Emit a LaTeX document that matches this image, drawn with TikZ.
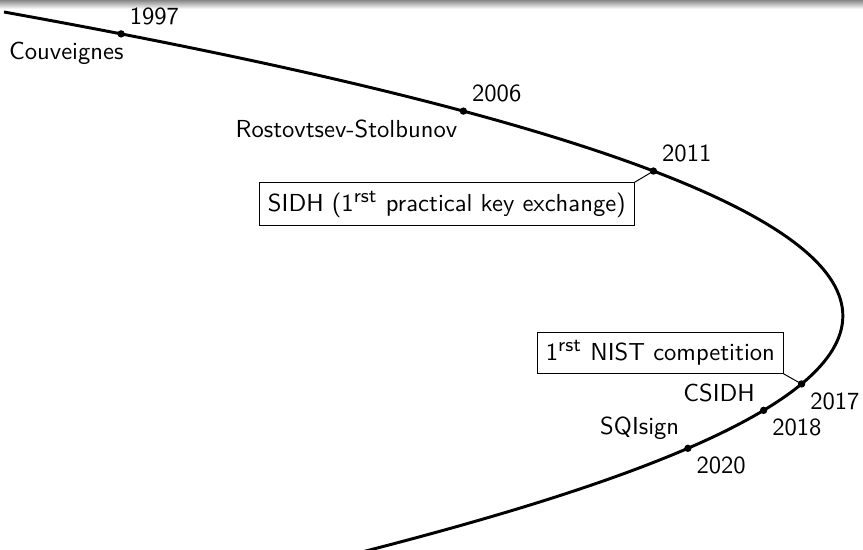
\documentclass[tikz,border=0pt]{standalone}
\usepackage{xcolor}
\definecolor{shadowgray}{RGB}{135, 135, 135}
\usepackage{tikz}
\usetikzlibrary{positioning}

\newcommand{\rstsup}{\textsuperscript{\footnotesize rst}}

\begin{document}
\begin{tikzpicture}[x=0.01428cm, y=-0.01428cm, font=\sffamily,
    event/.style={draw, thin, fill=white},
    link/.style={thin}]
    \useasboundingbox (0,0) rectangle (863,550);
    \shade[top color=shadowgray, bottom color=white] (0,0) rectangle (863,9);
    \draw[very thick] (4,12) .. controls (1298,245) and (827,433) .. (358,553)
        coordinate[pos=0.0315] (y1997)
        coordinate[pos=0.146] (y2006)
        coordinate[pos=0.239] (y2011)
        coordinate[pos=0.612] (y2017)
        coordinate[pos=0.665] (y2018)
        coordinate[pos=0.745] (y2020);
    \node[above right] (t1997) at (y1997) {1997};
    \node[below left, xshift=4.5pt] (couveignes) at (y1997) {Couveignes};
    \node[above right] (t2006) at (y2006) {2006};
    \node[below left, xshift=1pt] (rostov) at (y2006) {Rostovtsev-Stolbunov};
    \node[above right] (t2011) at (y2011) {2011};
    \node[event, below left=4.6pt and 7.7pt of y2011] (sidh) {SIDH (1\rstsup{} practical key exchange)};
    \draw[link] (sidh.north east) -- (y2011);
    \node[below right] (t2017) at (y2017) {2017};
    \node[event, above left=4.1pt and 7.3pt of y2017] (nist) {1\rstsup{} NIST competition};
    \draw[link] (nist.south east) -- (y2017);
    \node[above left] (csidh) at (y2018) {CSIDH};
    \node[below right] (t2018) at (y2018) {2018};
    \node[above left] (sqisign) at (y2020) {SQIsign};
    \node[below right] (t2020) at (y2020) {2020};
    \foreach \yr in {1997,2006,2011,2017,2018,2020}
        \fill (y\yr) circle (1.5pt);
\end{tikzpicture}
\end{document}
